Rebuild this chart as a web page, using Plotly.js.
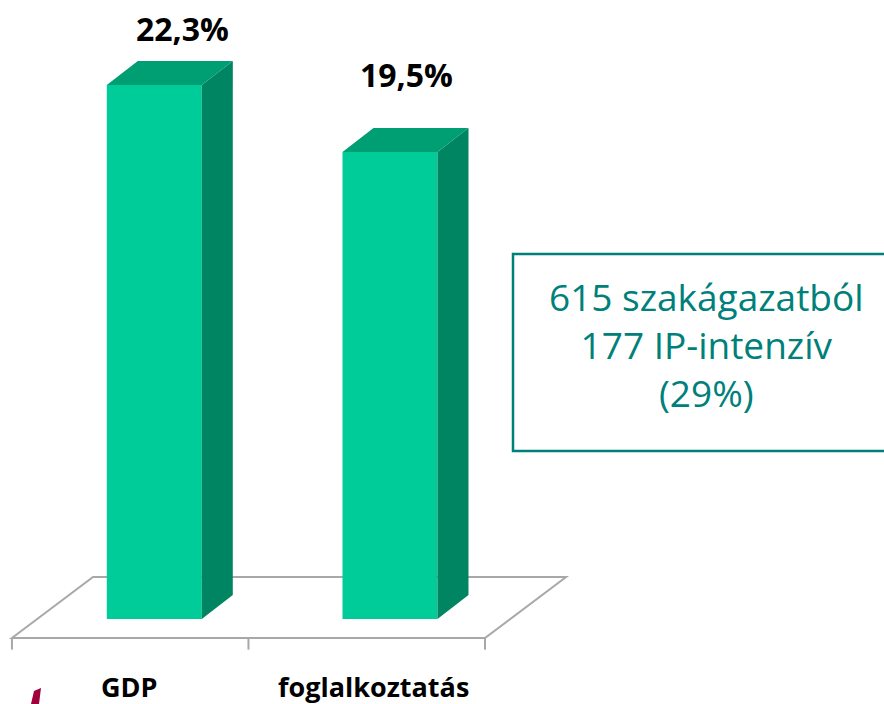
<!DOCTYPE html>
<html>
<head>
<meta charset="utf-8">
<script src="https://cdn.plot.ly/plotly-3.0.1.min.js"></script>
<style>html,body{margin:0;padding:0;background:#fff;}#chart{width:884px;height:704px;}</style>
</head>
<body>
<div id="chart"></div>
<script>
// ---- data ----
const categories = ["GDP", "foglalkoztatás"];
const values = [22.3, 19.5];
const valueLabels = ["22,3%", "19,5%"];
const boxLines = ["615 szakágazatból", "177 IP-intenzív", "(29%)"];

// ---- style / geometry constants ----
const W = 884, H = 704;
const barWidth = 0.403;          // in x units
const depthX = 0.1315;           // 3D depth offset (x units)
const depthY = 1.0;              // 3D depth offset (y units)
const frontColor = "rgb(0,204,153)";
const topColor = "rgb(0,158,115)";
const sideColor = "rgb(0,133,98)";
const teal = "rgb(0,128,122)";
const floorColor = "#a8a8a8";
const labelNudgeX = [0.118, 0.068];
const labelNudgeY = [2.38, 3.22];
const catNudgeX = [-0.107, -0.068];

const xs = categories.map((c, i) => i);

const traces = [];
// front faces
traces.push({
  type: "bar", x: xs, y: values, width: barWidth,
  marker: {color: frontColor, line: {width: 0}},
  hoverinfo: "skip", showlegend: false
});
// side and top faces
xs.forEach((x, i) => {
  const v = values[i];
  const l = x - barWidth / 2, r = x + barWidth / 2;
  traces.push({
    type: "scatter", mode: "lines", fill: "toself",
    x: [r, r + depthX, r + depthX, r, r],
    y: [0, depthY, v + depthY, v, 0],
    fillcolor: sideColor, line: {width: 0, color: sideColor},
    hoverinfo: "skip", showlegend: false
  });
  traces.push({
    type: "scatter", mode: "lines", fill: "toself",
    x: [l, r, r + depthX, l + depthX, l],
    y: [v, v, v + depthY, v + depthY, v],
    fillcolor: topColor, line: {width: 0, color: topColor},
    hoverinfo: "skip", showlegend: false
  });
});

// floor geometry (axis frame)
const floorFrontY = -0.793, floorBackY = 1.754;
const floorLeft = -0.604, floorRight = 1.403, floorShift = 0.344;
const tickBottom = -1.28;

const shapes = [
  {type: "path", xref: "x", yref: "y", layer: "below",
   path: `M ${floorLeft} ${floorFrontY} L ${floorLeft + floorShift} ${floorBackY} L ${floorRight + floorShift} ${floorBackY} L ${floorRight} ${floorFrontY} Z`,
   line: {color: floorColor, width: 2}, fillcolor: "rgba(0,0,0,0)"}
];
[floorLeft, (floorLeft + floorRight) / 2, floorRight].forEach(tx => {
  shapes.push({type: "line", xref: "x", yref: "y", layer: "below",
    x0: tx, x1: tx, y0: floorFrontY, y1: tickBottom,
    line: {color: floorColor, width: 2}});
});
// info box
shapes.push({type: "rect", xref: "paper", yref: "paper",
  x0: 513 / W, x1: 900 / W, y0: 1 - 451 / H, y1: 1 - 254 / H,
  line: {color: teal, width: 2.5}, fillcolor: "rgba(0,0,0,0)"});
// logo fragment bottom-left
shapes.push({type: "path", xref: "paper", yref: "paper",
  path: `M ${31/W} ${1-704/H} L ${34/W} ${1-691/H} L ${41/W} ${1-688/H} L ${39/W} ${1-704/H} Z`,
  fillcolor: "rgb(160,0,60)", line: {width: 0}});

const annotations = [];
values.forEach((v, i) => {
  annotations.push({
    x: xs[i] + labelNudgeX[i], y: v + labelNudgeY[i], xref: "x", yref: "y",
    text: "<b>" + valueLabels[i] + "</b>", showarrow: false,
    font: {family: "Open Sans", size: 32, color: "#000"},
    xanchor: "center", yanchor: "middle"
  });
  annotations.push({
    x: xs[i] + catNudgeX[i], y: -2.8, xref: "x", yref: "y",
    text: "<b>" + categories[i] + "</b>", showarrow: false,
    font: {family: "Open Sans", size: 27, color: "#000"},
    xanchor: "center", yanchor: "middle"
  });
});
annotations.push({
  x: 706 / W, y: 1 - 345 / H, xref: "paper", yref: "paper",
  text: boxLines.join("<br>"), showarrow: false,
  font: {family: "Open Sans", size: 37, color: teal},
  align: "center", xanchor: "center", yanchor: "middle"
});

const layout = {
  width: W, height: H,
  margin: {l: 0, r: 0, t: 0, b: 0},
  paper_bgcolor: "#fff", plot_bgcolor: "#fff",
  showlegend: false,
  xaxis: {range: [-0.6547, 3.096], visible: false, fixedrange: true},
  yaxis: {range: [-3.55, 25.85], visible: false, fixedrange: true},
  shapes: shapes, annotations: annotations
};

Plotly.newPlot("chart", traces, layout, {staticPlot: true});
</script>
</body>
</html>
